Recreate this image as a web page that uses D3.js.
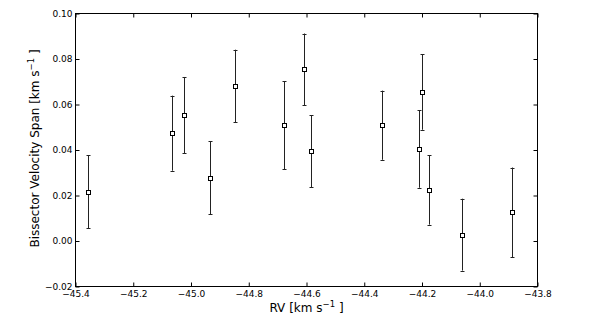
<!DOCTYPE html>
<html>
<head>
<meta charset="utf-8">
<script src="https://cdn.jsdelivr.net/npm/d3@7"></script>
<style>
  body { margin: 0; background: #fff; }
  text { font-family: "DejaVu Sans", sans-serif; fill: #000; }
</style>
</head>
<body>
<script>
// RV values, bisector span and their errors
var rv   = [-45.356, -45.066, -45.023, -44.934, -44.847, -44.677, -44.610, -44.583, -44.340, -44.212, -44.201, -44.177, -44.063, -43.890];
var bvs  = [0.0217, 0.0474, 0.0553, 0.0278, 0.0681, 0.0509, 0.0754, 0.0394, 0.0509, 0.0404, 0.0655, 0.0224, 0.0028, 0.0126];
var bErr = [0.0160, 0.0165, 0.0168, 0.0160, 0.0160, 0.0194, 0.0158, 0.0158, 0.0152, 0.0170, 0.0166, 0.0152, 0.0158, 0.0197];

var xTicks = [-45.4, -45.2, -45.0, -44.8, -44.6, -44.4, -44.2, -44.0, -43.8];
var yTicks = [-0.02, 0.00, 0.02, 0.04, 0.06, 0.08, 0.10];

var w = 598, h = 321;
var pLeft = 75.5, pRight = 537.5, pTop = 13.5, pBottom = 286.5;

var svg = d3.select("body").append("svg")
    .attr("width", w)
    .attr("height", h);

var x = d3.scaleLinear().domain([-45.4, -43.8]).range([pLeft, pRight]);
var y = d3.scaleLinear().domain([-0.02, 0.10]).range([pBottom, pTop]);

var minus = function(s) { return s.replace("-", "\u2212"); };

// axes (ticks pointing inward, like matplotlib)
svg.append("g")
    .attr("transform", "translate(0," + pBottom + ")")
    .call(d3.axisBottom(x).tickValues(xTicks).tickSizeInner(-4).tickSizeOuter(0).tickPadding(6)
        .tickFormat(function(d) { return minus(d3.format(".1f")(d)); }))
    .call(function(g) {
        g.select(".domain").remove();
        g.selectAll("text").attr("font-size", "9px").attr("dy", "0.71em").attr("y", 4);
    });

svg.append("g")
    .attr("transform", "translate(0," + pTop + ")")
    .call(d3.axisTop(x).tickValues(xTicks).tickSizeInner(-4).tickSizeOuter(0).tickFormat(""))
    .call(function(g) { g.select(".domain").remove(); });

svg.append("g")
    .attr("transform", "translate(" + pLeft + ",0)")
    .call(d3.axisLeft(y).tickValues(yTicks).tickSizeInner(-4).tickSizeOuter(0).tickPadding(4)
        .tickFormat(function(d) { return minus(d3.format(".2f")(d)); }))
    .call(function(g) {
        g.select(".domain").remove();
        g.selectAll("text").attr("font-size", "9px").attr("x", -3);
    });

svg.append("g")
    .attr("transform", "translate(" + pRight + ",0)")
    .call(d3.axisRight(y).tickValues(yTicks).tickSizeInner(-4).tickSizeOuter(0).tickFormat(""))
    .call(function(g) { g.select(".domain").remove(); });

svg.selectAll(".tick line").attr("stroke", "#000");

// frame
svg.append("rect")
    .attr("x", pLeft).attr("y", pTop)
    .attr("width", pRight - pLeft).attr("height", pBottom - pTop)
    .attr("fill", "none").attr("stroke", "#000").attr("stroke-width", 1);

// error bars
var bars = svg.append("g").selectAll("g")
    .data(rv)
    .enter()
    .append("g");

bars.append("line")
    .attr("x1", function(d) { return Math.round(x(d)) + 0.5; })
    .attr("x2", function(d) { return Math.round(x(d)) + 0.5; })
    .attr("y1", function(d, i) { return y(bvs[i] + bErr[i]); })
    .attr("y2", function(d, i) { return y(bvs[i] - bErr[i]); })
    .attr("stroke", "#222").attr("stroke-width", 1);

bars.append("line")
    .attr("x1", function(d) { return Math.round(x(d)) - 1.5; })
    .attr("x2", function(d) { return Math.round(x(d)) + 2.5; })
    .attr("y1", function(d, i) { return Math.round(y(bvs[i] + bErr[i])) + 0.5; })
    .attr("y2", function(d, i) { return Math.round(y(bvs[i] + bErr[i])) + 0.5; })
    .attr("stroke", "#222").attr("stroke-width", 1);

bars.append("line")
    .attr("x1", function(d) { return Math.round(x(d)) - 1.5; })
    .attr("x2", function(d) { return Math.round(x(d)) + 2.5; })
    .attr("y1", function(d, i) { return Math.round(y(bvs[i] - bErr[i])) + 0.5; })
    .attr("y2", function(d, i) { return Math.round(y(bvs[i] - bErr[i])) + 0.5; })
    .attr("stroke", "#222").attr("stroke-width", 1);

bars.append("rect")
    .attr("x", function(d) { return Math.round(x(d)) - 1.5; })
    .attr("y", function(d, i) { return Math.round(y(bvs[i])) - 1.5; })
    .attr("width", 4).attr("height", 4)
    .attr("fill", "#fff").attr("stroke", "#000").attr("stroke-width", 1);

// axis labels
var xl = svg.append("text")
    .attr("x", (pLeft + pRight) / 2).attr("y", 311.5)
    .attr("text-anchor", "middle")
    .attr("font-size", "12px");
xl.append("tspan").text("RV [km s");
xl.append("tspan").attr("dy", -5).attr("font-size", "8.5px").text("\u22121");
xl.append("tspan").attr("dy", 5).text(" ]");

var yl = svg.append("text")
    .attr("transform", "translate(38.5,148.5) rotate(-90)")
    .attr("text-anchor", "middle")
    .attr("font-size", "12px");
yl.append("tspan").text("Bissector Velocity Span [km s");
yl.append("tspan").attr("dy", -5).attr("font-size", "8.5px").text("\u22121");
yl.append("tspan").attr("dy", 5).text(" ]");
</script>
</body>
</html>
